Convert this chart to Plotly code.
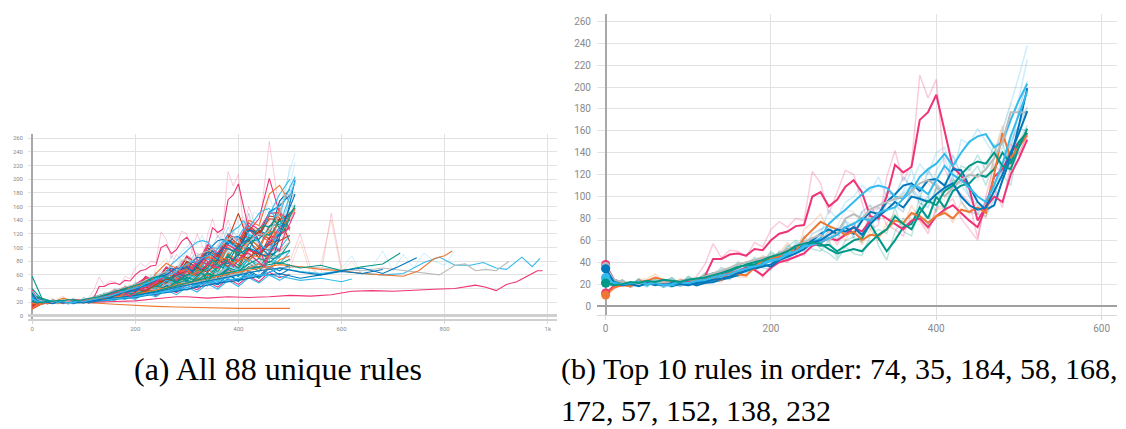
import plotly.graph_objects as go

# TensorBoard-style run colours
BLUE, CYAN, TEAL, ORANGE, RED, MAGENTA, GREY = (
    '#0077bb', '#33bbee', '#009988', '#ee7733', '#cc3311', '#ee3377', '#bbbbbb')

def faint(hex_color, alpha=0.28):
    h = hex_color.lstrip('#')
    r, g, b = int(h[0:2], 16), int(h[2:4], 16), int(h[4:6], 16)
    return f'rgba({r},{g},{b},{alpha})'

# ---------------- Top 10 rules (panel b), logged every 10 steps ----------------
top_steps = list(range(0, 520, 10))
top_rules = ['74', '35', '184', '58', '168', '172', '57', '152', '138', '232']
top_colors = [MAGENTA, BLUE, CYAN, TEAL, MAGENTA, ORANGE, GREY, BLUE, CYAN, TEAL]

smooth_74 = [38,24,21,20,22,21,22,21,22,20,22,24,27,43,43,47,48,46,52,51,60,66,68,73,74,100,104,91,97,109,115,104,82,80,100,129,122,127,170,177,193,160,127,119,107,78,91,118,125,140,150,158]
raw_74 = [38,17,24,18,25,19,24,19,24,20,23,27,38,57,44,51,50,45,58,54,70,77,72,80,78,123,112,84,104,124,120,96,70,74,118,142,114,130,211,190,207,125,110,102,95,62,100,130,120,148,138,158]
smooth_35 = [35,24,21,20,20,21,19,21,18,20,21,19,21,22,24,26,28,33,34,36,38,44,46,52,55,60,66,70,66,72,66,78,86,84,95,102,110,112,105,115,116,110,125,124,110,95,88,92,115,135,165,199]
raw_35 = [35,20,23,18,22,19,21,17,20,18,23,18,22,21,27,24,31,36,33,40,37,50,44,58,54,66,70,74,60,78,62,86,92,80,104,100,118,108,98,124,112,104,138,120,100,84,82,98,130,142,180,205]
smooth_184 = [26,22,20,21,19,20,21,20,19,21,20,22,23,25,27,30,31,35,37,40,42,45,48,50,55,58,62,75,82,88,95,102,108,110,108,100,98,105,118,125,130,139,128,140,150,155,157,145,150,170,188,203]
raw_184 = [26,19,22,18,21,17,23,19,17,23,18,24,21,28,25,33,29,38,35,44,40,50,46,53,60,56,66,88,80,95,100,110,104,118,100,95,102,112,130,120,140,145,118,152,148,162,150,138,160,185,210,238]
smooth_58 = [21,20,21,20,22,20,22,21,23,22,24,25,27,30,31,33,36,37,38,41,44,48,50,54,58,57,55,56,50,55,60,62,75,62,50,60,72,75,90,80,100,90,105,110,112,120,118,125,140,130,150,158]
raw_58 = [21,18,24,19,25,18,24,20,26,20,27,23,30,28,35,31,40,34,42,38,48,45,55,50,64,52,50,60,44,60,63,58,85,55,42,68,80,70,100,72,110,85,115,112,118,128,110,135,150,120,162,160]
smooth_168 = [12,18,19,20,21,22,20,22,21,23,22,24,25,26,28,30,32,35,33,28,35,40,42,45,48,55,58,62,60,65,72,68,78,85,80,75,70,78,80,72,82,88,92,85,78,72,90,100,95,120,135,152]
raw_168 = [12,16,21,19,23,20,21,20,23,21,24,22,27,24,30,28,35,33,36,26,38,44,40,50,46,60,55,68,56,70,76,62,86,90,74,70,64,85,78,66,90,92,98,80,70,60,98,108,90,130,140,155]
smooth_172 = [10,17,19,18,22,23,26,24,22,23,24,23,26,25,24,30,29,28,35,42,44,45,52,50,62,70,77,73,70,65,68,60,65,64,70,78,76,85,82,76,82,85,80,88,86,90,85,120,158,135,145,156]
raw_172 = [10,15,21,17,24,25,29,22,20,25,22,25,28,23,22,34,27,26,40,46,42,48,58,46,70,76,84,68,66,60,74,56,70,60,76,84,72,92,78,70,88,90,76,95,84,96,80,140,165,125,150,160]
smooth_57 = [36,24,22,21,20,22,21,22,21,23,24,25,27,30,32,35,38,40,42,44,45,48,52,55,58,62,65,60,66,80,84,80,88,92,95,98,100,105,112,115,110,100,108,115,120,118,125,135,150,177,177,177]
raw_57 = [36,21,24,19,22,20,23,20,23,21,26,23,30,28,35,33,41,38,45,42,48,46,56,52,62,60,70,56,72,88,86,76,92,90,100,96,104,100,118,112,104,96,114,112,126,114,132,140,160,185,178,176]
smooth_152 = [34,22,19,20,18,21,20,19,21,20,19,21,22,24,25,27,30,32,35,38,36,42,45,48,52,58,60,65,70,68,72,65,75,82,88,95,90,100,98,95,102,108,112,100,92,88,90,105,120,140,158,178]
raw_152 = [34,19,21,17,20,19,22,17,23,18,21,19,24,22,28,25,33,30,38,35,33,46,42,52,50,62,57,70,66,72,76,60,80,78,94,92,86,106,94,90,108,104,118,96,86,84,96,112,128,150,165,182]
smooth_138 = [25,21,20,21,22,20,21,19,20,22,21,23,24,26,28,29,32,34,36,38,41,43,47,50,54,56,58,62,65,72,75,80,78,85,88,90,98,110,108,102,115,128,120,115,108,100,95,110,130,155,175,196]
raw_138 = [25,18,22,19,24,18,23,17,22,20,24,21,26,24,31,27,35,32,40,36,45,41,52,47,58,54,62,60,70,78,72,86,74,90,86,96,104,125,100,96,124,136,112,110,100,92,90,122,145,170,190,225]
smooth_232 = [21,19,20,22,21,23,22,24,23,22,24,25,26,28,30,32,35,38,40,42,45,47,50,55,57,58,57,52,48,50,52,50,58,65,70,82,75,70,85,96,92,105,110,120,128,132,130,140,128,125,145,162]
raw_232 = [21,17,22,20,24,21,25,22,26,20,27,23,29,26,33,30,38,36,44,40,50,44,54,60,54,62,52,48,42,54,48,46,64,70,66,90,68,64,92,100,86,112,108,128,124,138,124,148,120,110,150,165]

top_smooth = [smooth_74, smooth_35, smooth_184, smooth_58, smooth_168,
              smooth_172, smooth_57, smooth_152, smooth_138, smooth_232]
top_raw = [raw_74, raw_35, raw_184, raw_58, raw_168,
           raw_172, raw_57, raw_152, raw_138, raw_232]

# ---------------- Remaining rules (panel a), logged every 20 steps ----------------
other_steps = list(range(0, 520, 20))
other_colors = [BLUE, CYAN, TEAL, ORANGE, RED, MAGENTA, GREY,
                BLUE, CYAN, TEAL, ORANGE, RED, MAGENTA, GREY,
                BLUE, CYAN, TEAL, ORANGE, RED, MAGENTA,
                BLUE, CYAN, TEAL, RED, BLUE, ORANGE,
                CYAN, TEAL, RED, BLUE, MAGENTA, ORANGE,
                GREY, CYAN, TEAL, RED, BLUE, MAGENTA]
other_vals = [
    [18,21,20,22,20,23,21,26,31,28,42,38,58,48,66,55,74,70,90,78,104,96,125,118,168,185],
    [22,19,21,20,22,21,24,23,27,24,31,38,32,45,36,52,44,62,50,68,58,78,64,86,76,95],
    [58,24,21,19,22,20,23,22,27,32,28,40,34,48,42,56,50,64,52,72,62,84,70,92,86,108],
    [15,19,20,18,22,21,21,24,23,30,26,38,33,52,44,64,52,78,66,92,80,108,96,130,148,125],
    [10,18,19,21,20,21,23,23,28,34,30,44,40,58,50,72,64,88,80,112,150,108,124,112,143,108],
    [25,20,21,21,22,22,23,25,31,38,34,52,44,62,55,74,66,86,78,104,96,124,142,201,150,128],
    [20,21,20,21,23,20,24,24,29,34,30,42,38,52,46,64,56,74,66,86,78,98,90,110,112,None],
    [28,20,21,19,21,20,23,22,25,30,26,34,30,40,36,48,42,54,46,60,52,66,58,72,66,75],
    [35,21,21,20,20,19,23,22,27,34,30,44,40,58,52,76,66,92,84,110,100,125,118,148,178,200],
    [20,20,20,23,20,21,21,25,25,34,28,42,36,54,44,66,54,78,64,88,74,100,86,108,110,None],
    [12,18,19,21,19,22,21,25,27,36,32,52,44,64,54,78,66,92,80,112,104,140,132,178,191,165],
    [15,20,19,22,19,23,22,26,26,34,28,42,34,52,40,60,48,70,56,82,70,98,86,115,118,None],
    [22,19,22,19,23,20,23,23,27,30,26,35,30,40,34,45,38,50,42,54,46,58,50,64,56,61],
    [30,22,19,22,21,21,21,24,24,31,26,40,32,50,40,60,48,70,58,78,68,90,78,100,94,109],
    [24,19,22,21,21,20,24,24,29,36,32,50,44,66,56,80,70,94,82,110,98,128,118,152,161,177],
    [18,21,18,22,21,22,19,23,23,28,24,33,28,38,31,42,35,47,39,52,43,56,48,60,52,61],
    [40,23,19,22,21,22,22,26,27,36,30,46,38,58,48,70,60,84,72,100,88,116,100,132,134,151],
    [20,18,21,21,22,22,25,25,30,36,33,48,44,62,54,76,66,88,78,100,90,112,102,124,118,129],
    [18,21,20,21,21,22,23,28,30,42,36,56,48,70,60,86,74,100,88,118,104,132,120,146,144,None],
    [28,20,21,21,24,21,26,27,34,42,38,58,50,72,62,88,76,104,92,120,110,136,126,150,151,139],
    [20,22,19,22,21,24,23,27,27,34,28,40,32,46,36,52,42,56,46,62,50,64,55,70,60,69],
    [26,19,22,19,22,21,25,26,31,38,34,48,42,58,52,72,62,84,76,100,90,118,112,150,161,None],
    [24,20,21,20,23,22,25,24,28,32,30,38,34,44,40,50,46,56,52,64,58,72,66,80,76,83],
    [14,19,19,22,21,22,22,27,29,40,34,52,44,64,56,80,70,96,86,112,100,128,118,142,141,149],
    [32,21,21,20,21,21,24,24,28,32,28,37,33,44,39,52,46,60,54,68,62,76,70,84,85,None],
    [16,20,20,21,21,24,24,29,31,42,36,52,44,64,54,76,66,88,78,100,90,112,102,124,121,129],
    [20,20,22,21,23,22,26,30,28,36,42,38,50,46,58,52,64,70,62,74,68,82,76,70,88,96],
    [26,21,20,22,21,24,23,28,34,30,38,46,42,54,60,52,66,58,72,80,70,86,92,84,98,None],
    [16,20,21,20,23,21,25,24,30,36,44,40,52,48,60,66,58,74,82,72,90,84,100,96,110,118],
    [22,21,20,22,24,22,27,32,30,40,36,48,56,50,62,58,70,66,82,76,90,100,92,108,120,None],
    [30,21,20,21,22,24,23,30,38,34,46,56,50,60,72,64,80,76,92,104,94,112,120,108,130,142],
    [18,20,21,22,21,23,26,25,30,28,36,34,42,40,48,46,54,60,52,66,62,70,76,68,82,88],
    [24,21,20,22,23,22,25,28,26,34,32,40,38,46,52,48,58,54,64,70,62,76,72,84,90,None],
    [28,20,21,22,21,23,24,27,32,30,38,44,40,52,48,60,56,68,76,70,86,80,96,104,98,118],
    [22,21,20,21,23,22,26,25,29,34,32,38,44,40,50,56,52,62,58,70,66,76,84,78,90,96],
    [12,18,20,21,20,22,24,28,26,34,40,36,46,54,50,60,70,64,78,86,80,96,90,104,112,None],
    [30,22,20,21,22,21,24,23,27,26,31,30,35,34,40,38,44,50,46,54,52,60,58,64,70,72],
    [20,21,22,21,23,22,25,27,34,30,42,38,50,58,52,66,62,76,70,86,82,96,92,106,118,130],
]

# Longer runs that keep training past step 500
cyan_long_x = [0,40,80,120,160,200,240,280,320,360,400,440,480,520,560,600,640,680,720,760,790,820,850,875,900,920,950,970,985]
cyan_long_y = [24,21,20,22,24,28,34,40,48,52,60,58,70,65,62,66,62,60,62,78,86,74,74,78,70,68,86,72,84]
grey_long_x = [0,40,80,120,160,200,240,280,320,360,400,440,480,520,560,600,640,680,720,760,790,820,840,860,880,900,925]
grey_long_y = [22,20,21,23,26,30,36,42,50,55,62,66,70,72,70,68,66,70,66,62,60,74,76,66,68,66,80]
orange_long_x = [0,40,80,120,160,200,240,280,320,360,400,440,480,520,560,600,640,680,720,750,780,800,815]
orange_long_y = [20,21,22,24,27,31,38,45,52,58,64,70,75,72,68,66,62,60,58,66,84,88,95]
teal_long_x = [0,40,80,120,160,200,240,280,320,360,400,440,480,520,560,600,640,680,714]
teal_long_y = [30,21,20,22,25,30,36,44,52,60,66,72,78,70,74,66,72,76,92]
blue_long_x = [0,40,80,120,160,200,240,280,320,360,400,440,480,520,560,600,640,680,710,746]
blue_long_y = [26,20,21,23,26,30,35,42,48,55,60,66,70,64,60,66,70,62,72,85]
blue_long2_x = [0,40,80,120,160,200,240,280,320,360,400,440,480,520,560,600,640,680]
blue_long2_y = [22,21,20,22,24,27,32,36,42,48,52,58,62,55,60,65,62,68]
cyan_long2_x = [0,40,80,120,160,200,240,280,320,360,400,440,480,520,560,600,620]
cyan_long2_y = [20,20,21,22,25,28,33,38,45,50,55,60,58,52,55,50,54]
pink_low_x = [0,40,80,120,160,200,240,280,300,340,380,420,460,500,540,580,620,660,700,740,780,820,860,880,900,920,940,960,980,990]
pink_low_y = [20,19,21,20,21,22,25,28,28,26,28,27,28,30,29,31,36,37,36,38,39,40,45,42,37,46,50,58,66,66]
orange_low_x = [0,20,40,80,120,160,200,240,280,320,360,400,440,480,500]
orange_low_y = [12,18,20,20,19,17,15,14,13,12,12,11,11,11,11]

long_runs = [
    (cyan_long_x, cyan_long_y, CYAN), (grey_long_x, grey_long_y, GREY),
    (orange_long_x, orange_long_y, ORANGE), (teal_long_x, teal_long_y, TEAL),
    (blue_long_x, blue_long_y, BLUE), (blue_long2_x, blue_long2_y, BLUE),
    (cyan_long2_x, cyan_long2_y, CYAN), (pink_low_x, pink_low_y, MAGENTA),
    (orange_low_x, orange_low_y, ORANGE),
]

# Unsmoothed traces of some runs (drawn faintly)
raw_pink_x = [380,400,420,440,460,480,500,520,540,560,580,600]
raw_pink_y = [120,95,150,90,140,110,80,120,70,60,150,70]
raw_orange_x = [480,500,520,540,560,580,600,620,640]
raw_orange_y = [100,70,110,60,75,140,65,80,60]
raw_cyan_x = [600,620,640,660,680,700,720,740,760,780,800,820]
raw_cyan_y = [70,88,60,72,95,66,90,70,92,80,74,95]
raw_lb_x = [280,300,320,340,360,380,400,420,440,460,480,500]
raw_lb_y = [70,95,60,110,80,130,90,150,110,175,130,220]
raw_pk2_x = [260,280,300,320,340,360,380,400,420,440,460,480]
raw_pk2_y = [60,90,70,120,85,100,140,95,160,120,255,150]
raw_runs = [(raw_pink_x, raw_pink_y, MAGENTA), (raw_orange_x, raw_orange_y, ORANGE),
            (raw_cyan_x, raw_cyan_y, CYAN), (raw_lb_x, raw_lb_y, CYAN),
            (raw_pk2_x, raw_pk2_y, MAGENTA)]

fig = go.Figure()

# ---- panel (a): all rules ----
for xs, ys, c in raw_runs:
    fig.add_trace(go.Scatter(x=xs, y=ys, mode='lines', line=dict(color=faint(c, 0.25), width=1),
                             xaxis='x', yaxis='y', showlegend=False, hoverinfo='skip'))
for ys, c in zip(top_raw, top_colors):
    fig.add_trace(go.Scatter(x=top_steps, y=ys, mode='lines', line=dict(color=faint(c, 0.25), width=1),
                             xaxis='x', yaxis='y', showlegend=False, hoverinfo='skip'))
for ys, c in zip(other_vals, other_colors):
    fig.add_trace(go.Scatter(x=other_steps, y=ys, mode='lines', line=dict(color=c, width=1.1),
                             xaxis='x', yaxis='y', showlegend=False))
for xs, ys, c in long_runs:
    fig.add_trace(go.Scatter(x=xs, y=ys, mode='lines', line=dict(color=c, width=1.1),
                             xaxis='x', yaxis='y', showlegend=False))
for ys, c in zip(top_smooth, top_colors):
    fig.add_trace(go.Scatter(x=top_steps, y=ys, mode='lines', line=dict(color=c, width=1.1),
                             xaxis='x', yaxis='y', showlegend=False))

# ---- panel (b): top 10 rules ----
for ys, c in zip(top_raw, top_colors):
    fig.add_trace(go.Scatter(x=top_steps, y=ys, mode='lines', line=dict(color=faint(c, 0.25), width=1.5),
                             xaxis='x2', yaxis='y2', showlegend=False, hoverinfo='skip'))
for ys, c, name in zip(top_smooth, top_colors, top_rules):
    fig.add_trace(go.Scatter(x=top_steps, y=ys, mode='lines', name='rule ' + name,
                             line=dict(color=c, width=2), xaxis='x2', yaxis='y2', showlegend=False))
fig.add_trace(go.Scatter(x=[top_steps[0]] * len(top_smooth), y=[s[0] for s in top_smooth],
                         mode='markers', marker=dict(color=top_colors, size=9),
                         xaxis='x2', yaxis='y2', showlegend=False))

W, H = 1126, 429
def dx(p0, p1):
    return [p0 / W, p1 / W]
def dy(top, bottom):
    return [1 - bottom / H, 1 - top / H]

grid = '#e2e2e2'
tick_font_small = dict(family='Roboto', size=6, color='#8a8a8a')
tick_font = dict(family='Roboto', size=10, color='#8a8a8a')

fig.update_layout(
    width=W, height=H, margin=dict(l=0, r=0, t=0, b=0, pad=0),
    paper_bgcolor='white', plot_bgcolor='white',
    xaxis=dict(domain=dx(28, 557), range=[-8, 1018], tickvals=[0, 200, 400, 600, 800, 1000],
               ticktext=['0', '200', '400', '600', '800', '1k'], tickfont=tick_font_small,
               showgrid=True, gridcolor=grid, gridwidth=1, zeroline=True, zerolinecolor='#a8a8a8',
               zerolinewidth=1.5, showline=True, linecolor='#d0d0d0', linewidth=2,
               ticks='outside', ticklen=3, tickcolor='#d8d8d8', anchor='y'),
    yaxis=dict(domain=dy(134, 319), range=[-4.5, 266], tickvals=list(range(0, 261, 20)),
               tickfont=tick_font_small, showgrid=True, gridcolor=grid, gridwidth=1,
               zeroline=True, zerolinecolor='#cfcfcf', zerolinewidth=2.5, ticks='',
               ticklabelstandoff=4, anchor='x'),
    xaxis2=dict(domain=dx(597, 1117), range=[-10.5, 618.6], tickvals=[0, 200, 400, 600],
                tickfont=tick_font, showgrid=True, gridcolor=grid, gridwidth=1,
                zeroline=True, zerolinecolor='#a8a8a8', zerolinewidth=1.8,
                showline=True, linecolor='#d8d8d8', linewidth=1,
                ticks='outside', ticklen=4, tickcolor='#d8d8d8', anchor='y2'),
    yaxis2=dict(domain=dy(14, 315), range=[-8.2, 266.7], tickvals=list(range(0, 261, 20)),
                tickfont=tick_font, showgrid=True, gridcolor=grid, gridwidth=1,
                zeroline=True, zerolinecolor='#a0a0a0', zerolinewidth=1.5, ticks='',
                ticklabelstandoff=5, anchor='x2'),
)

cap_font = dict(family='Liberation Serif', size=30, color='black')
fig.add_annotation(text='(a) All 88 unique rules', x=277.5 / W, y=1 - 369 / H, xref='paper', yref='paper',
                   xanchor='center', yanchor='middle', showarrow=False,
                   font=dict(family='Liberation Serif', size=32, color='black'))
fig.add_annotation(text='(b) Top 10 rules in order: 74, 35, 184, 58, 168,', x=559 / W, y=1 - 369 / H,
                   xref='paper', yref='paper', xanchor='left', yanchor='middle', showarrow=False, font=cap_font)
fig.add_annotation(text='172, 57, 152, 138, 232', x=559 / W, y=1 - 410 / H,
                   xref='paper', yref='paper', xanchor='left', yanchor='middle', showarrow=False, font=cap_font)

fig.write_html('out.html')
